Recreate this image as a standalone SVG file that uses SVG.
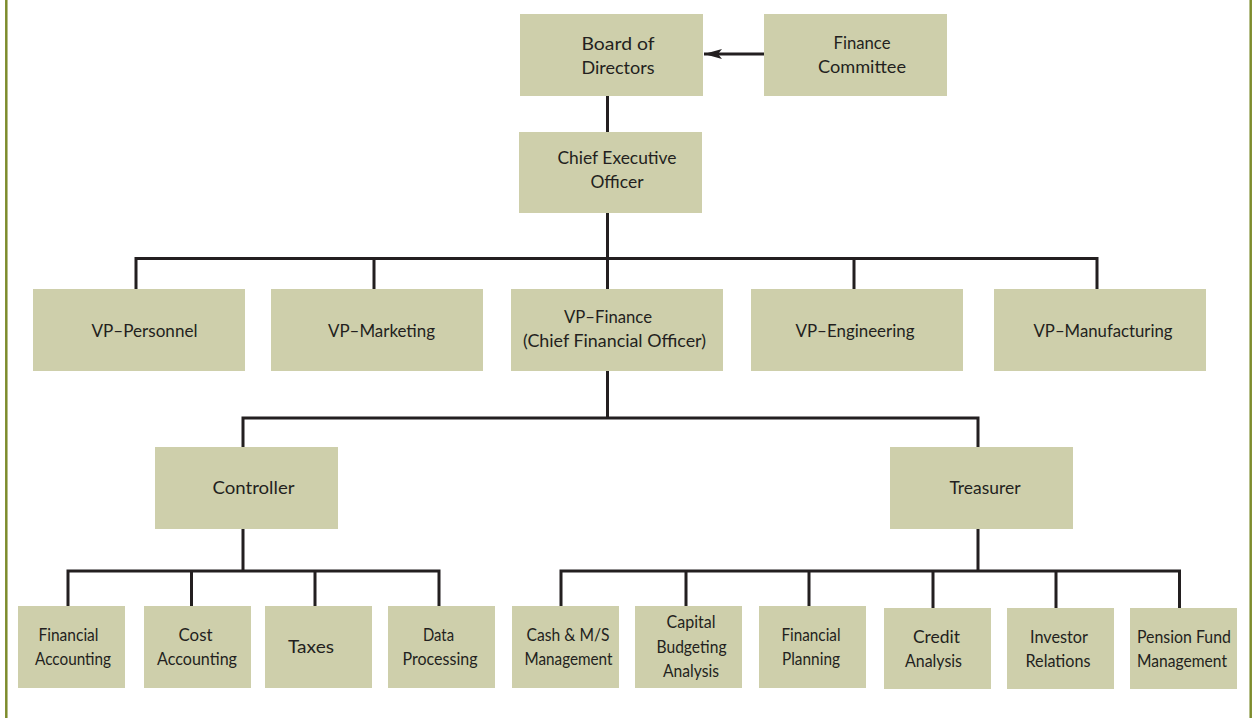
<svg xmlns="http://www.w3.org/2000/svg" width="1253" height="718" viewBox="0 0 1253 718">
  <style>
    .box { fill: #cecfab; }
    .lbl { font-family: Lato, "Liberation Sans", sans-serif; font-size: 18px; fill: #231f20; text-anchor: middle; }
    .wire { fill: none; stroke: #231f20; stroke-width: 3; stroke-linejoin: miter; stroke-linecap: butt; }
    .frame { stroke: #7d8c2c; stroke-width: 2.5; }
  </style>
  <defs>
    <marker id="head" viewBox="0 0 18 10" refX="18" refY="5" markerWidth="18" markerHeight="10" markerUnits="userSpaceOnUse" orient="auto">
      <path d="M0,0 L18,5 L0,10 L4,5 Z" fill="#231f20"/>
    </marker>
  </defs>

  <rect width="1253" height="718" fill="#ffffff"/>
  <line class="frame" x1="6.3" y1="0" x2="6.3" y2="718"/>
  <line class="frame" x1="1250.7" y1="0" x2="1250.7" y2="718"/>

  <!-- connectors -->
  <g id="connectors">
    <line class="wire" x1="764" y1="54" x2="704" y2="54" marker-end="url(#head)"/>
    <line class="wire" x1="607.5" y1="96" x2="607.5" y2="132"/>
    <line class="wire" x1="607.5" y1="213" x2="607.5" y2="289"/>
    <path class="wire" d="M136,289 V258.5 H1097 V289 M374,258.5 V289 M854,258.5 V289"/>
    <path class="wire" d="M607.5,371 V418 M243,447 V418 H978 V447"/>
    <path class="wire" d="M243,529 V571 M68,606 V571 H439 V606 M191.5,571 V606 M315,571 V606"/>
    <path class="wire" d="M978,529 V571 M561,606 V571 H1179.5 V608 M686,571 V606 M809,571 V606 M933,571 V608 M1056,571 V608"/>
  </g>

  <g id="board"><rect class="box" x="520" y="14" width="183" height="82"/>
    <text class="lbl" x="618" y="50" textLength="73" lengthAdjust="spacingAndGlyphs">Board of</text>
    <text class="lbl" x="618" y="74" textLength="73" lengthAdjust="spacingAndGlyphs">Directors</text></g>
  <g id="finance-committee"><rect class="box" x="764" y="14" width="183" height="82"/>
    <text class="lbl" x="862" y="49" textLength="57" lengthAdjust="spacingAndGlyphs">Finance</text>
    <text class="lbl" x="862" y="73" textLength="88" lengthAdjust="spacingAndGlyphs">Committee</text></g>
  <g id="ceo"><rect class="box" x="519" y="132" width="183" height="81"/>
    <text class="lbl" x="617" y="164" textLength="119" lengthAdjust="spacingAndGlyphs">Chief Executive</text>
    <text class="lbl" x="617" y="188" textLength="53" lengthAdjust="spacingAndGlyphs">Officer</text></g>

  <g id="vp-personnel"><rect class="box" x="33" y="289" width="212" height="82"/>
    <text class="lbl" x="144.5" y="337" textLength="106" lengthAdjust="spacingAndGlyphs">VP–Personnel</text></g>
  <g id="vp-marketing"><rect class="box" x="271" y="289" width="212" height="82"/>
    <text class="lbl" x="381.5" y="337" textLength="107" lengthAdjust="spacingAndGlyphs">VP–Marketing</text></g>
  <g id="vp-finance"><rect class="box" x="511" y="289" width="212" height="82"/>
    <text class="lbl" x="608" y="323" textLength="88" lengthAdjust="spacingAndGlyphs">VP–Finance</text>
    <text class="lbl" x="614.5" y="347" textLength="183" lengthAdjust="spacingAndGlyphs">(Chief Financial Officer)</text></g>
  <g id="vp-engineering"><rect class="box" x="751" y="289" width="212" height="82"/>
    <text class="lbl" x="855" y="337" textLength="119" lengthAdjust="spacingAndGlyphs">VP–Engineering</text></g>
  <g id="vp-manufacturing"><rect class="box" x="994" y="289" width="212" height="82"/>
    <text class="lbl" x="1103" y="337" textLength="139" lengthAdjust="spacingAndGlyphs">VP–Manufacturing</text></g>

  <g id="controller"><rect class="box" x="155" y="447" width="183" height="82"/>
    <text class="lbl" x="253.5" y="494" textLength="82" lengthAdjust="spacingAndGlyphs">Controller</text></g>
  <g id="treasurer"><rect class="box" x="890" y="447" width="183" height="82"/>
    <text class="lbl" x="985" y="494" textLength="71" lengthAdjust="spacingAndGlyphs">Treasurer</text></g>

  <g id="financial-accounting"><rect class="box" x="18" y="606" width="107" height="82"/>
    <text class="lbl" x="68.5" y="641" textLength="60" lengthAdjust="spacingAndGlyphs">Financial</text>
    <text class="lbl" x="73" y="665" textLength="76" lengthAdjust="spacingAndGlyphs">Accounting</text></g>
  <g id="cost-accounting"><rect class="box" x="144" y="606" width="107" height="82"/>
    <text class="lbl" x="195.5" y="641" textLength="34" lengthAdjust="spacingAndGlyphs">Cost</text>
    <text class="lbl" x="197" y="665" textLength="80" lengthAdjust="spacingAndGlyphs">Accounting</text></g>
  <g id="taxes"><rect class="box" x="265" y="606" width="107" height="82"/>
    <text class="lbl" x="311" y="653" textLength="46" lengthAdjust="spacingAndGlyphs">Taxes</text></g>
  <g id="data-processing"><rect class="box" x="388" y="606" width="107" height="82"/>
    <text class="lbl" x="438.5" y="641" textLength="31" lengthAdjust="spacingAndGlyphs">Data</text>
    <text class="lbl" x="440" y="665" textLength="75" lengthAdjust="spacingAndGlyphs">Processing</text></g>

  <g id="cash-management"><rect class="box" x="512" y="606" width="107" height="82"/>
    <text class="lbl" x="568" y="641" textLength="83" lengthAdjust="spacingAndGlyphs">Cash &amp; M/S</text>
    <text class="lbl" x="568.5" y="665" textLength="88" lengthAdjust="spacingAndGlyphs">Management</text></g>
  <g id="capital-budgeting"><rect class="box" x="635" y="606" width="107" height="82"/>
    <text class="lbl" x="691" y="628" textLength="49" lengthAdjust="spacingAndGlyphs">Capital</text>
    <text class="lbl" x="691.5" y="653" textLength="70" lengthAdjust="spacingAndGlyphs">Budgeting</text>
    <text class="lbl" x="691" y="677" textLength="56" lengthAdjust="spacingAndGlyphs">Analysis</text></g>
  <g id="financial-planning"><rect class="box" x="759" y="606" width="107" height="82"/>
    <text class="lbl" x="811" y="641" textLength="59" lengthAdjust="spacingAndGlyphs">Financial</text>
    <text class="lbl" x="811" y="665" textLength="58" lengthAdjust="spacingAndGlyphs">Planning</text></g>
  <g id="credit-analysis"><rect class="box" x="884" y="608" width="107" height="81"/>
    <text class="lbl" x="936.5" y="643" textLength="47" lengthAdjust="spacingAndGlyphs">Credit</text>
    <text class="lbl" x="933.5" y="667" textLength="57" lengthAdjust="spacingAndGlyphs">Analysis</text></g>
  <g id="investor-relations"><rect class="box" x="1007" y="608" width="107" height="81"/>
    <text class="lbl" x="1059" y="643" textLength="58" lengthAdjust="spacingAndGlyphs">Investor</text>
    <text class="lbl" x="1058" y="667" textLength="65" lengthAdjust="spacingAndGlyphs">Relations</text></g>
  <g id="pension-fund"><rect class="box" x="1130" y="608" width="107" height="81"/>
    <text class="lbl" x="1184" y="643" textLength="94" lengthAdjust="spacingAndGlyphs">Pension Fund</text>
    <text class="lbl" x="1182" y="667" textLength="90" lengthAdjust="spacingAndGlyphs">Management</text></g>
</svg>
